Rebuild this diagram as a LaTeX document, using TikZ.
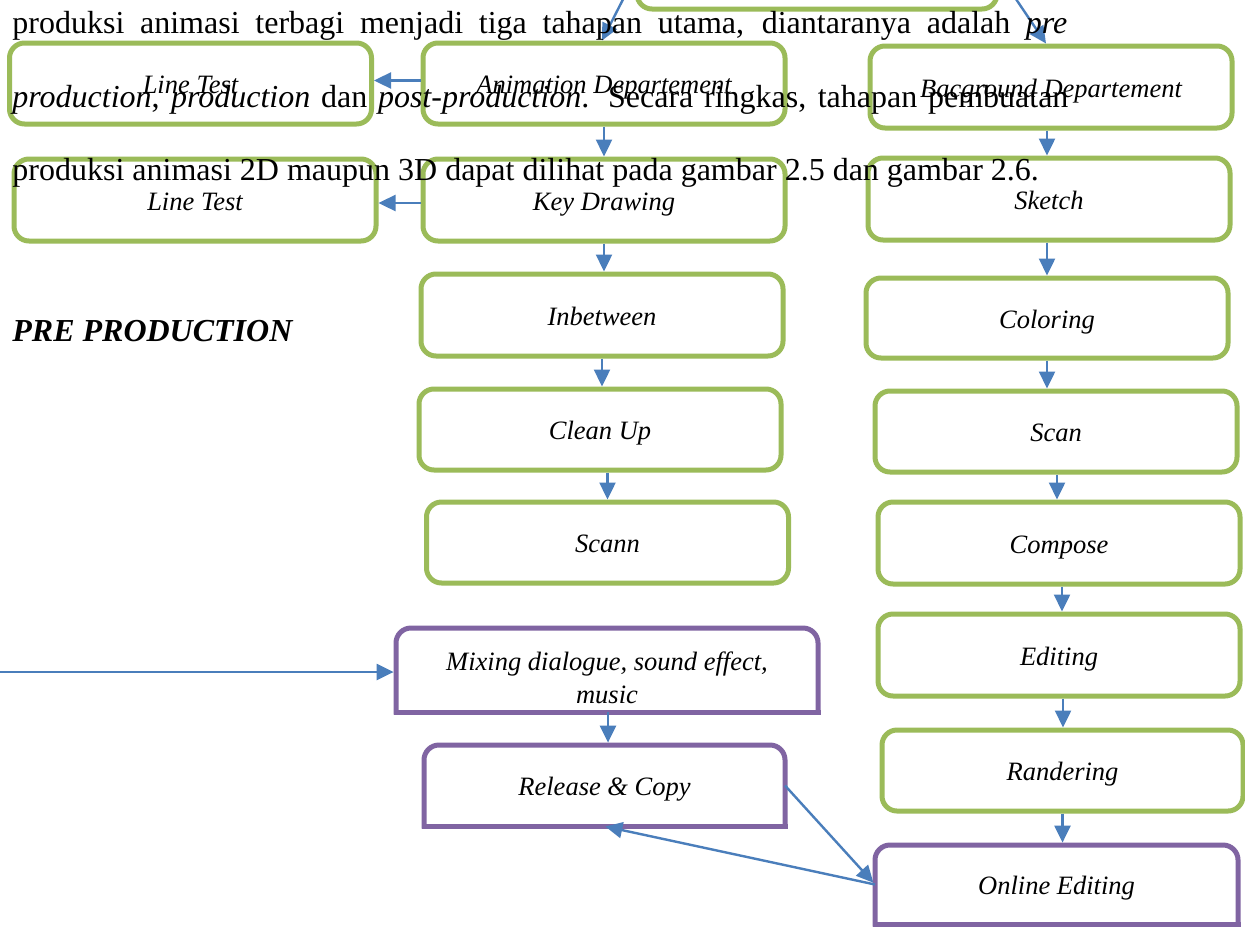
\documentclass[tikz,border=0pt]{standalone}
\usepackage{fontspec}
\setmainfont{Liberation Serif}
\usetikzlibrary{arrows.meta}
\definecolor{boxgreen}{HTML}{9BBB59}
\definecolor{boxpurple}{HTML}{8064A2}
\definecolor{arrblue}{HTML}{4A7EBB}
\newcommand{\boxfont}{\fontsize{13.25}{16.5}\selectfont\itshape}
\newcommand{\parfont}{\fontsize{16}{19}\selectfont}
\newcommand{\pframe}[1]{%
  \draw[pline, rounded corners=7.5pt] (#1.south west) -- (#1.north west) -- (#1.north east) -- (#1.south east);
  \draw[pline] (#1.south east) -- (#1.south west);}
\begin{document}
\begin{tikzpicture}[x=0.5pt,y=-0.5pt,
  gbox/.style={draw=boxgreen, line width=2.5pt, rounded corners=7.5pt, fill=white,
    inner sep=0pt, font=\boxfont, text height=10pt, text depth=0pt,
    minimum width=181pt, minimum height=41pt},
  pbox/.style={fill=white, inner sep=0pt, outer sep=0pt, font=\boxfont,
    text height=10pt, text depth=0pt},
  pline/.style={draw=boxpurple, line width=2.5pt, line cap=rect},
  arr/.style={draw=arrblue, line width=1.2pt, -{Triangle[length=8.5pt,width=8pt]}},
  parr/.style={arr, shorten >=1.2pt},
  ptext/.style={anchor=base west, inner sep=0pt, font=\parfont}]
\useasboundingbox (0,0) rectangle (1245,926);
\clip (0,0) rectangle (1245,926);
\fill[white] (0,0) rectangle (1245,926);

% green boxes
\node[gbox, minimum width=180pt, minimum height=43pt] (top) at (817,-34) {};
\node[gbox, minimum height=40.5pt] (lt1) at (190.5,83.5) {Line Test};
\node[gbox, minimum height=40.5pt] (anim) at (604,83.5) {Animation Departement};
\node[gbox] (bg) at (1051,87) {Bacground Departement};
\node[gbox] (lt2) at (195,200) {Line Test};
\node[gbox] (key) at (604,200) {Key Drawing};
\node[gbox] (sketch) at (1049,199) {Sketch};
\node[gbox] (inb) at (602,315) {Inbetween};
\node[gbox, minimum height=40pt] (col) at (1047,318) {Coloring};
\node[gbox, minimum height=40.5pt] (clean) at (600,429.5) {Clean Up};
\node[gbox, minimum height=40.5pt] (scan) at (1056,431.5) {Scan};
\node[gbox, minimum height=40.5pt] (scann) at (607.5,542.5) {Scann};
\node[gbox] (comp) at (1059,543) {Compose};
\node[gbox] (edit) at (1059,655) {Editing};
\node[gbox, minimum width=180.5pt, minimum height=40.5pt] (rand) at (1062.5,770.5) {Randering};

% purple boxes
\node[pbox, minimum width=211pt, minimum height=42pt] (mix) at (607,670) {};
\begin{scope}
  \clip (mix.south west) rectangle (mix.north east);
  \node[font=\boxfont, align=center, inner sep=0pt] (mixt) at (607,678) {Mixing dialogue, sound effect,\\ music};
\end{scope}
\pframe{mix}
\node[pbox, minimum width=180.5pt, minimum height=40.5pt] (rel) at (604.5,785.5) {Release \& Copy};
\pframe{rel}
\node[pbox, minimum width=181.5pt, minimum height=39.5pt] (online) at (1056.5,884.5) {Online Editing};
\pframe{online}

% connectors
\coordinate (ta) at (637,-28);
\coordinate (tb) at (997,-29);
\coordinate (inl) at (0,672);
\draw[arr] (ta) -- ([xshift=-1pt]anim.north);
\draw[arr] (tb) -- ([xshift=-2.5pt]bg.north);
\draw[arr] ([yshift=1.5pt]anim.west) -- ([yshift=1.5pt]lt1.east);
\draw[arr] ([yshift=-1.5pt]key.west) -- ([yshift=-1.5pt]key.west -| lt2.east);
\draw[arr] (anim.south) -- (key.north);
\draw[arr] (key.south) -- (key.south |- inb.north);
\draw[arr] (inb.south) -- (inb.south |- clean.north);
\draw[arr] (scann.north |- clean.south) -- (scann.north);
\draw[arr] ([xshift=-2pt]bg.south) -- ([xshift=-2pt]bg.south |- sketch.north);
\draw[arr] ([xshift=-1pt]sketch.south) -- ([xshift=-1pt]sketch.south |- col.north);
\draw[arr] (col.south) -- (col.south |- scan.north);
\draw[arr] ([xshift=0.5pt]scan.south) -- ([xshift=0.5pt]scan.south |- comp.north);
\draw[arr] ([xshift=1.5pt]comp.south) -- ([xshift=1.5pt]comp.south |- edit.north);
\draw[arr] ([xshift=2pt]edit.south) -- ([xshift=2pt]edit.south |- rand.north);
\draw[parr] (rand.south) -- (rand.south |- online.north);
\draw[parr] (inl) -- (inl -| mix.west);
\draw[parr] ([xshift=0.5pt]mix.south) -- ([xshift=0.5pt]mix.south |- rel.north);
\draw[parr] (rel.east) -- (online.west);
\draw[parr] (online.west) -- ([xshift=-0.75pt]rel.south);

% paragraph text over the diagram
\node[ptext] (p1) at (12,33) {\makebox[527.5pt][s]{produksi animasi terbagi menjadi tiga tahapan utama, diantaranya adalah \textit{pre}}};
\node[ptext] (p2) at (12,107) {\makebox[528pt][s]{\textit{production}, \textit{production} dan \textit{post-production}. Secara ringkas, tahapan pembuatan}};
\node[ptext] (p3) at (12,180) {produksi animasi 2D maupun 3D dapat dilihat pada gambar 2.5 dan gambar 2.6.};
\node[ptext] (pre) at (12,341) {\textbf{\textit{PRE PRODUCTION}}};
\end{tikzpicture}
\end{document}
